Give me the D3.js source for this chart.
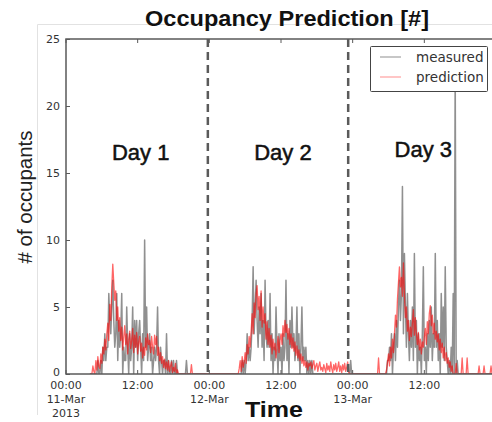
<!DOCTYPE html>
<html>
<head>
<meta charset="utf-8">
<script src="https://cdn.jsdelivr.net/npm/d3@7"></script>
<style>
  body { margin: 0; background: #fff; }
  svg { display: block; }
</style>
</head>
<body>
<div id="chart"></div>
<script>
// DATA (10 minute steps, each day starts at 04:00)
const dayStarts = ["2013-03-11T04:00", "2013-03-12T04:00", "2013-03-13T04:00"];
const stepMinutes = 10;

const measuredDay1 = [
  0,0,0,0,0,0,  0,0,1,0,0,1,  0,2,1,3,1,2,  2,6,4,3,5,7,
  4,2,3,6,1,4,  2,3,6,0,2,1,  1,5,2,0,3,1,  2,5,0,4,2,4,
  1,3,4,2,0,3,  1,10,2,5,1,2, 3,1,2,0,1,2,  1,2,5,1,0,2,
  1,0,1,1,0,3,  0,1,0,0,1,0,  1,0,0,1,0,0,  0,0,0,0,0,0,
  0,1,0,0,0,0,  0,0,0,0,0,0,  0,0,0,0,0,0,  0,0,0,0,0,0
];
const predictedDay1 = [
  0,0,0,0.6,0.2,0,          1.0,0.3,1.3,0.6,0.4,1.5,  0.8,2.0,1.5,2.6,1.8,3.0,  3.8,2.5,5.2,4.0,6.5,8.2,
  6.8,5.5,6.2,4.0,5.0,3.2,  4.2,2.5,3.5,1.8,2.8,3.6,  2.2,3.0,1.5,2.6,3.2,1.9,  2.5,3.4,1.6,2.9,2.0,3.1,
  1.5,2.4,2.8,1.7,2.3,1.2,  2.0,1.4,2.7,1.8,3.0,2.2,  2.5,1.6,2.8,2.0,1.5,2.9,  2.2,2.8,1.4,2.0,1.0,1.6,
  0.8,1.3,0.5,1.1,0.4,0.9,  0.3,1.0,0.2,0.6,0.9,0.1,  0.5,0.2,0.8,0,0.3,0,      0,0,0,0,0,0,
  0,0,0,0,0,0,              0.7,0,0,0,0,0,            0,0,0,0,0,0,              0,0,0,0,0,0
];

const measuredDay2 = [
  0,0,0,0,0,0,  0,0,0,1,0,1,  0,1,3,1,2,1,  2,4,8,3,5,7,
  4,2,5,3,6,2,  4,1,7,3,2,4,  2,6,1,3,0,2,  1,5,2,0,3,1,
  2,0,3,1,2,7,  1,3,0,4,2,5,  2,3,1,2,5,1,  3,0,2,5,1,2,
  1,2,0,1,0,1,  0,1,0,0,0,0,  0,0,0,0,0,0,  0,0,0,0,0,0,
  0,0,0,0,0,0,  0,0,0,0,0,0,  0,0,0,0,0,0,  0,0,0,0,1,0
];
const predictedDay2 = [
  0,0,0,0,0,0,              0.4,1.0,0.2,1.3,0.5,0.9,  1.6,0.8,2.2,1.5,2.8,2.0,  3.2,4.5,3.0,5.3,4.2,6.0,
  6.6,4.8,5.8,4.0,6.2,3.5,  5.0,3.8,4.5,2.6,3.9,2.2,  3.4,2.0,2.9,1.5,2.6,1.8,  2.3,1.2,2.0,2.8,1.6,2.5,
  3.0,2.2,3.6,2.8,4.0,3.1,  3.7,2.6,3.4,2.2,3.0,1.9,  2.7,1.7,2.4,1.4,2.1,1.2,  1.8,1.0,1.5,0.8,1.3,0.6,
  1.0,0.5,0.9,0.3,0.8,0.6,  0.9,0.4,0.7,1.0,0.3,0.6,  0.8,0.2,0.6,0.9,0.3,0.5,  0.2,0.7,0.4,0.1,0.8,0.3,
  0.6,0.2,0.9,0.4,0.1,0.7,  0.3,0.8,0.2,0.5,0.9,0.2,  0.6,0.1,0.7,0.3,0.8,0.2,  0.5,0.9,0.1,0,0,0
];

const measuredDay3 = [
  0,0,0,0,0,0,  0,0,0,0,0,1,  1,2,1,3,0,2,  3,1,4,2,5,7,
  4,6,14,3,9,5, 2,6,3,1,4,2,  5,1,9,2,4,0,  3,1,2,0,3,8,
  1,2,0,3,1,4,  2,5,1,3,2,9,  2,4,1,3,0,6,  2,5,1,8,2,1,
  0,1,0,2,0,6,  0,23,0,1,0,0, 0,0,0,0,0,0,  0,0,0,0,0,0,
  0,0,0,0,0,0,  0,0,0,0,0,0,  0,0,0,0,0,0,  0,0,0,0,0,0
];
const predictedDay3 = [
  0,0,1.2,0,0,0,            0,0,0,0,0.3,0.9,          1.5,0.6,2.0,1.2,2.6,1.6,  3.0,4.4,3.5,5.6,6.8,8.0,
  6.5,7.2,5.8,8.3,6.0,4.2,  5.0,3.2,4.0,2.5,3.5,2.8,  3.8,4.8,2.9,4.2,3.0,2.2,  3.1,1.8,2.6,1.5,2.4,2.0,
  2.8,3.4,2.2,3.9,3.0,4.5,  5.1,3.6,4.4,3.0,3.8,2.6,  3.2,2.4,3.0,1.8,2.6,1.6,  2.3,1.2,2.0,1.0,1.6,0.8,
  1.2,0.5,0.9,0.2,0.6,0,    0,0,0.8,0,0,0,            0,0,1.2,0,0,0,            0,1.2,0,0,0,0,
  0,0,0,0,0,0,              0,0.6,0,0,0,0,            0.6,0,0,0,0,0,            0,0.6,0,0,0,0
];

const yTicks = [0, 5, 10, 15, 20, 25];
const xTickTimes = ["2013-03-11T00:00", "2013-03-11T12:00", "2013-03-12T00:00",
                    "2013-03-12T12:00", "2013-03-13T00:00", "2013-03-13T12:00"];
const xTickLabels = [["00:00", "11-Mar", "2013"], ["12:00"], ["00:00", "12-Mar"],
                     ["12:00"], ["00:00", "13-Mar"], ["12:00"]];
const dividerTimes = ["2013-03-11T23:45", "2013-03-12T23:15"];
const dayLabels = ["Day 1", "Day 2", "Day 3"];
const dayLabelTimes = ["2013-03-11T12:30", "2013-03-12T12:20", "2013-03-13T11:50"];

//SETUP
const W = 492, H = 422;
const plot = { left: 66, top: 39, right: 496, bottom: 374 };
const parse = d3.utcParse("%Y-%m-%dT%H:%M");

const x = d3.scaleUtc()
  .domain([parse("2013-03-11T00:00"), parse("2013-03-14T00:00")])
  .range([plot.left, plot.right]);
const y = d3.scaleLinear().domain([0, 25]).range([plot.bottom, plot.top]);

function toPoints(days) {
  const pts = [];
  days.forEach((vals, k) => {
    const start = parse(dayStarts[k]);
    vals.forEach((v, i) => pts.push({ t: d3.utcMinute.offset(start, i * stepMinutes), v: v }));
  });
  return pts;
}
const measured = toPoints([measuredDay1, measuredDay2, measuredDay3]);
const predicted = toPoints([predictedDay1, predictedDay2, predictedDay3]);

const svg = d3.select("#chart").append("svg").attr("width", W).attr("height", H);

// faint figure border
svg.append("path")
  .attr("d", "M37.5,415 V24.5 H492")
  .attr("fill", "none").attr("stroke", "#e2e2e2").attr("stroke-width", 1);

svg.append("clipPath").attr("id", "clip")
  .append("rect")
  .attr("x", plot.left).attr("y", plot.top - 2)
  .attr("width", plot.right - plot.left).attr("height", plot.bottom - plot.top + 2);

const line = d3.line().x(d => x(d.t)).y(d => y(d.v));
const g = svg.append("g").attr("clip-path", "url(#clip)");
g.append("path").datum(measured)
  .attr("d", line).attr("fill", "none")
  .attr("stroke", "#555").attr("stroke-opacity", 0.65).attr("stroke-width", 1.5)
  .attr("stroke-linejoin", "round");
g.append("path").datum(predicted)
  .attr("d", line).attr("fill", "none")
  .attr("stroke", "#ff0000").attr("stroke-opacity", 0.6).attr("stroke-width", 1.3)
  .attr("stroke-linejoin", "round");

// frame
svg.append("rect")
  .attr("x", plot.left).attr("y", plot.top)
  .attr("width", plot.right - plot.left).attr("height", plot.bottom - plot.top)
  .attr("fill", "none").attr("stroke", "#5a5a5a").attr("stroke-width", 1.5);

// y axis
const yAxis = svg.append("g")
  .attr("transform", "translate(" + plot.left + ",0)")
  .call(d3.axisLeft(y).tickValues(yTicks).tickSize(-4).tickPadding(6));
yAxis.select(".domain").remove();
yAxis.selectAll("line").attr("stroke", "#5a5a5a");
yAxis.selectAll("text")
  .attr("font-family", "DejaVu Sans").attr("font-size", 11).attr("fill", "#333");
yAxis.selectAll(".tick").filter(d => d === 0).select("text").attr("dy", "0.1em");

// x ticks (inward, top and bottom)
xTickTimes.forEach((s, i) => {
  const px = x(parse(s));
  svg.append("line").attr("x1", px).attr("x2", px).attr("y1", plot.top).attr("y2", plot.top + 4)
    .attr("stroke", "#5a5a5a");
  svg.append("line").attr("x1", px).attr("x2", px).attr("y1", plot.bottom).attr("y2", plot.bottom - 4)
    .attr("stroke", "#5a5a5a");
  const t = svg.append("text")
    .attr("x", px).attr("y", 389)
    .attr("text-anchor", "middle")
    .attr("font-family", "DejaVu Sans").attr("font-size", 11).attr("fill", "#333");
  xTickLabels[i].forEach((lab, j) => {
    t.append("tspan").attr("x", px).attr("dy", j === 0 ? 0 : 14).text(lab);
  });
});

// day dividers
dividerTimes.forEach(s => {
  const px = x(parse(s));
  svg.append("line").attr("x1", px).attr("x2", px).attr("y1", plot.top).attr("y2", plot.bottom)
    .attr("stroke", "#5a5a5a").attr("stroke-width", 2.5).attr("stroke-dasharray", "8,5");
});

// day labels
dayLabels.forEach((lab, i) => {
  svg.append("text")
    .attr("x", x(parse(dayLabelTimes[i]))).attr("y", i === 2 ? 157 : 160)
    .attr("text-anchor", "middle")
    .attr("font-family", "Liberation Sans").attr("font-size", 22)
    .attr("fill", "#111").attr("stroke", "#111").attr("stroke-width", 0.5)
    .text(lab);
});

// legend
const lg = svg.append("g");
lg.append("rect").attr("x", 370.5).attr("y", 46.5).attr("width", 117).attr("height", 45)
  .attr("fill", "#fff").attr("stroke", "#444").attr("stroke-width", 1).attr("rx", 1);
lg.append("line").attr("x1", 380).attr("x2", 401).attr("y1", 57).attr("y2", 57)
  .attr("stroke", "#555").attr("stroke-opacity", 0.5).attr("stroke-width", 1.3);
lg.append("line").attr("x1", 380).attr("x2", 401).attr("y1", 77).attr("y2", 77)
  .attr("stroke", "#ff0000").attr("stroke-opacity", 0.35).attr("stroke-width", 1.3);
lg.append("text").attr("x", 416).attr("y", 62).text("measured");
lg.append("text").attr("x", 416).attr("y", 82).text("prediction");
lg.selectAll("text").attr("font-family", "DejaVu Sans").attr("font-size", 13.5).attr("fill", "#333");

// titles
svg.append("text")
  .attr("x", 287).attr("y", 26).attr("text-anchor", "middle")
  .attr("font-family", "Liberation Sans").attr("font-weight", "bold").attr("font-size", 22)
  .attr("textLength", 284).attr("lengthAdjust", "spacingAndGlyphs")
  .attr("fill", "#111")
  .text("Occupancy Prediction [#]");

svg.append("text")
  .attr("x", 274).attr("y", 417).attr("text-anchor", "middle")
  .attr("font-family", "Liberation Sans").attr("font-weight", "bold").attr("font-size", 22)
  .attr("textLength", 58).attr("lengthAdjust", "spacingAndGlyphs")
  .attr("fill", "#111")
  .text("Time");

svg.append("text")
  .attr("transform", "translate(32,197) rotate(-90)")
  .attr("text-anchor", "middle")
  .attr("font-family", "Liberation Sans").attr("font-size", 20)
  .attr("textLength", 133).attr("lengthAdjust", "spacingAndGlyphs")
  .attr("fill", "#222")
  .text("# of occupants");
</script>
</body>
</html>
